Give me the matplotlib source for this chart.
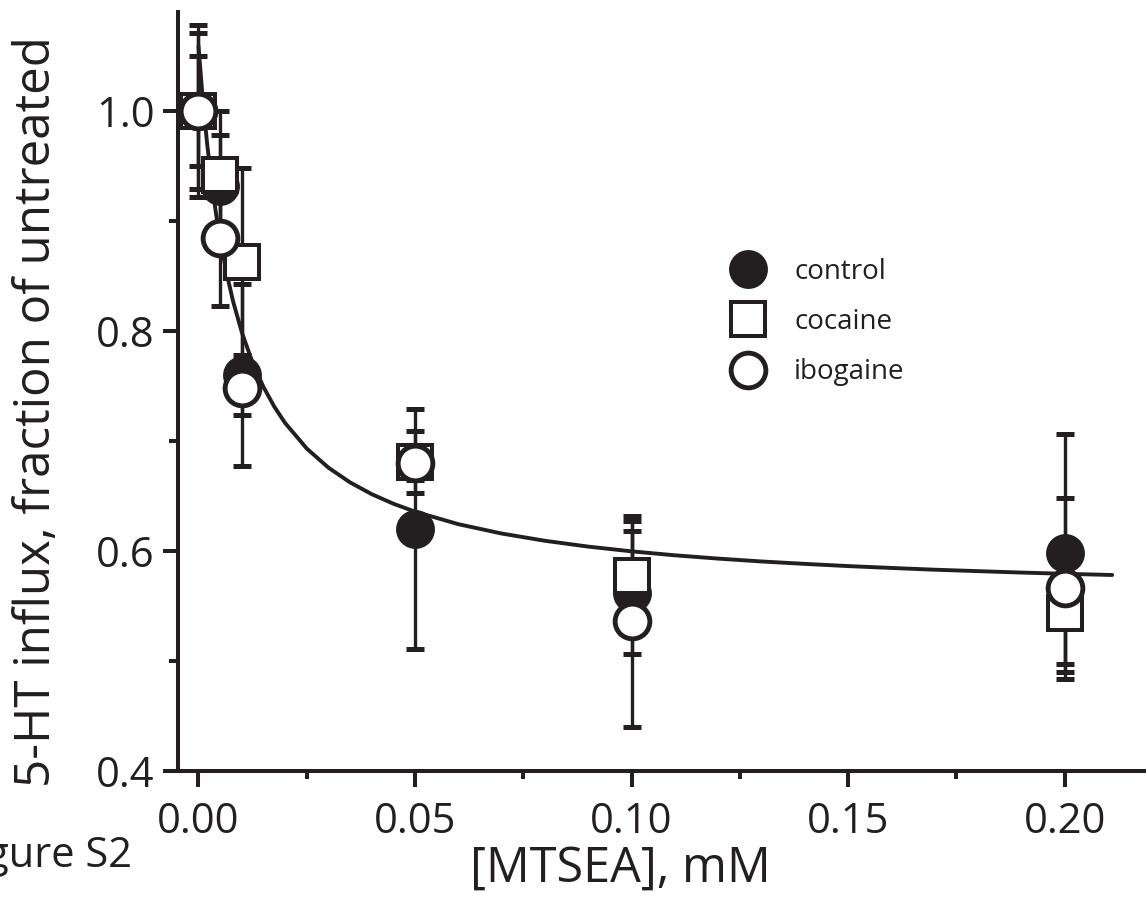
import matplotlib.pyplot as plt
from matplotlib.lines import Line2D
from matplotlib.ticker import MultipleLocator

# MTSEA concentrations, mM
mtsea = [0.0, 0.005, 0.01, 0.05, 0.10, 0.20]

# 5-HT influx, fraction of untreated (mean +/- error)
control = [1.0, 0.932, 0.76, 0.62, 0.562, 0.598]
control_err = [0.078, 0.046, 0.083, 0.109, 0.056, 0.108]
cocaine = [1.0, 0.942, 0.863, 0.681, 0.577, 0.544]
cocaine_err = [0.05, 0.058, 0.085, 0.028, 0.05, 0.047]
ibogaine = [1.0, 0.885, 0.748, 0.68, 0.536, 0.566]
ibogaine_err = [0.071, 0.062, 0.024, 0.015, 0.096, 0.082]

# fitted curve
fit_x = [0.0, 0.001, 0.002, 0.003, 0.004, 0.005, 0.0065, 0.008, 0.01, 0.0125,
         0.015, 0.0175, 0.02, 0.025, 0.03, 0.035, 0.04, 0.045, 0.05, 0.06,
         0.07, 0.08, 0.09, 0.10, 0.11, 0.12, 0.13, 0.14, 0.15, 0.16,
         0.17, 0.18, 0.19, 0.20, 0.211]
fit_y = [1.0592, 1.0104, 0.9703, 0.9367, 0.9081, 0.8836, 0.8526, 0.8269, 0.7990, 0.7712,
         0.7492, 0.7313, 0.7164, 0.6932, 0.6758, 0.6624, 0.6517, 0.6430, 0.6358, 0.6244,
         0.6159, 0.6093, 0.6040, 0.5997, 0.5961, 0.5931, 0.5905, 0.5883, 0.5863, 0.5846,
         0.5830, 0.5817, 0.5804, 0.5793, 0.5782]

ink = '#231f20'
font = ['Open Sans', 'DejaVu Sans']
plt.rcParams['font.family'] = font

fig = plt.figure(figsize=(11.46, 9.09), dpi=100)
ax = fig.add_axes([0.1553, 0.1518, 0.8447, 0.835])

ax.plot(fit_x, fit_y, color=ink, lw=2.8, zorder=2, solid_capstyle='round', solid_joinstyle='round')

err_kw = dict(fmt='none', ecolor=ink, elinewidth=2.4, capsize=6.8, capthick=3.6, zorder=2)
ax.errorbar(mtsea, control, yerr=control_err, **err_kw)
ax.errorbar(mtsea, cocaine, yerr=cocaine_err, **err_kw)
ax.errorbar(mtsea, ibogaine, yerr=ibogaine_err, **err_kw)

ax.plot(mtsea, control, 'o', ms=28, mfc=ink, mec=ink, mew=0, ls='none', zorder=3)
ax.plot(mtsea, cocaine, 's', ms=24.5, mfc='white', mec=ink, mew=2.9, ls='none', zorder=4)
ax.plot(mtsea, ibogaine, 'o', ms=25, mfc='white', mec=ink, mew=3.5, ls='none', zorder=5)

ax.set_xlim(-0.00473, 0.2188)
ax.set_ylim(0.4, 1.09)
ax.xaxis.set_major_locator(MultipleLocator(0.05))
ax.xaxis.set_minor_locator(MultipleLocator(0.025))
ax.yaxis.set_major_locator(MultipleLocator(0.2))
ax.yaxis.set_minor_locator(MultipleLocator(0.1))
ax.xaxis.set_major_formatter(lambda v, p: f'{v:.2f}')
ax.yaxis.set_major_formatter(lambda v, p: f'{v:.1f}')

for s in ['top', 'right']:
    ax.spines[s].set_visible(False)
for s in ['left', 'bottom']:
    ax.spines[s].set_linewidth(2.9)
    ax.spines[s].set_color(ink)

ax.tick_params(which='both', direction='out', color=ink, width=2.9, labelsize=30, labelcolor=ink)
ax.tick_params(axis='y', which='major', length=11, pad=6)
ax.tick_params(axis='y', which='minor', length=6.5)
ax.tick_params(axis='x', which='major', length=11.5, pad=10)
ax.tick_params(axis='x', which='minor', length=6)

ax.set_xlabel('[MTSEA], mM', fontsize=35, color=ink, va='baseline')
ax.xaxis.set_label_coords(0.4566, -0.146)
ax.set_ylabel('5-HT influx, fraction of untreated', fontsize=35.5, color=ink, va='baseline')
ax.yaxis.set_label_coords(-0.1322, 0.473)

fig.text(-0.04, 0.046, 'Figure S2', fontsize=30, color=ink, ha='left', va='baseline')

handles = [
    Line2D([], [], marker='o', ms=28, mfc=ink, mec=ink, mew=0, ls='none'),
    Line2D([], [], marker='s', ms=24.5, mfc='white', mec=ink, mew=2.9, ls='none'),
    Line2D([], [], marker='o', ms=25, mfc='white', mec=ink, mew=3.5, ls='none'),
]
leg = ax.legend(handles, ['control', 'cocaine', 'ibogaine'], loc='upper left',
                bbox_to_anchor=(734 / 1146, 1 - 258 / 909), bbox_transform=fig.transFigure,
                frameon=False, fontsize=20, handlelength=1.0, handletextpad=1.16,
                labelspacing=0.8, borderpad=0, borderaxespad=0, numpoints=1)
for t in leg.get_texts():
    t.set_color(ink)

fig.savefig('out.png', dpi=100)
